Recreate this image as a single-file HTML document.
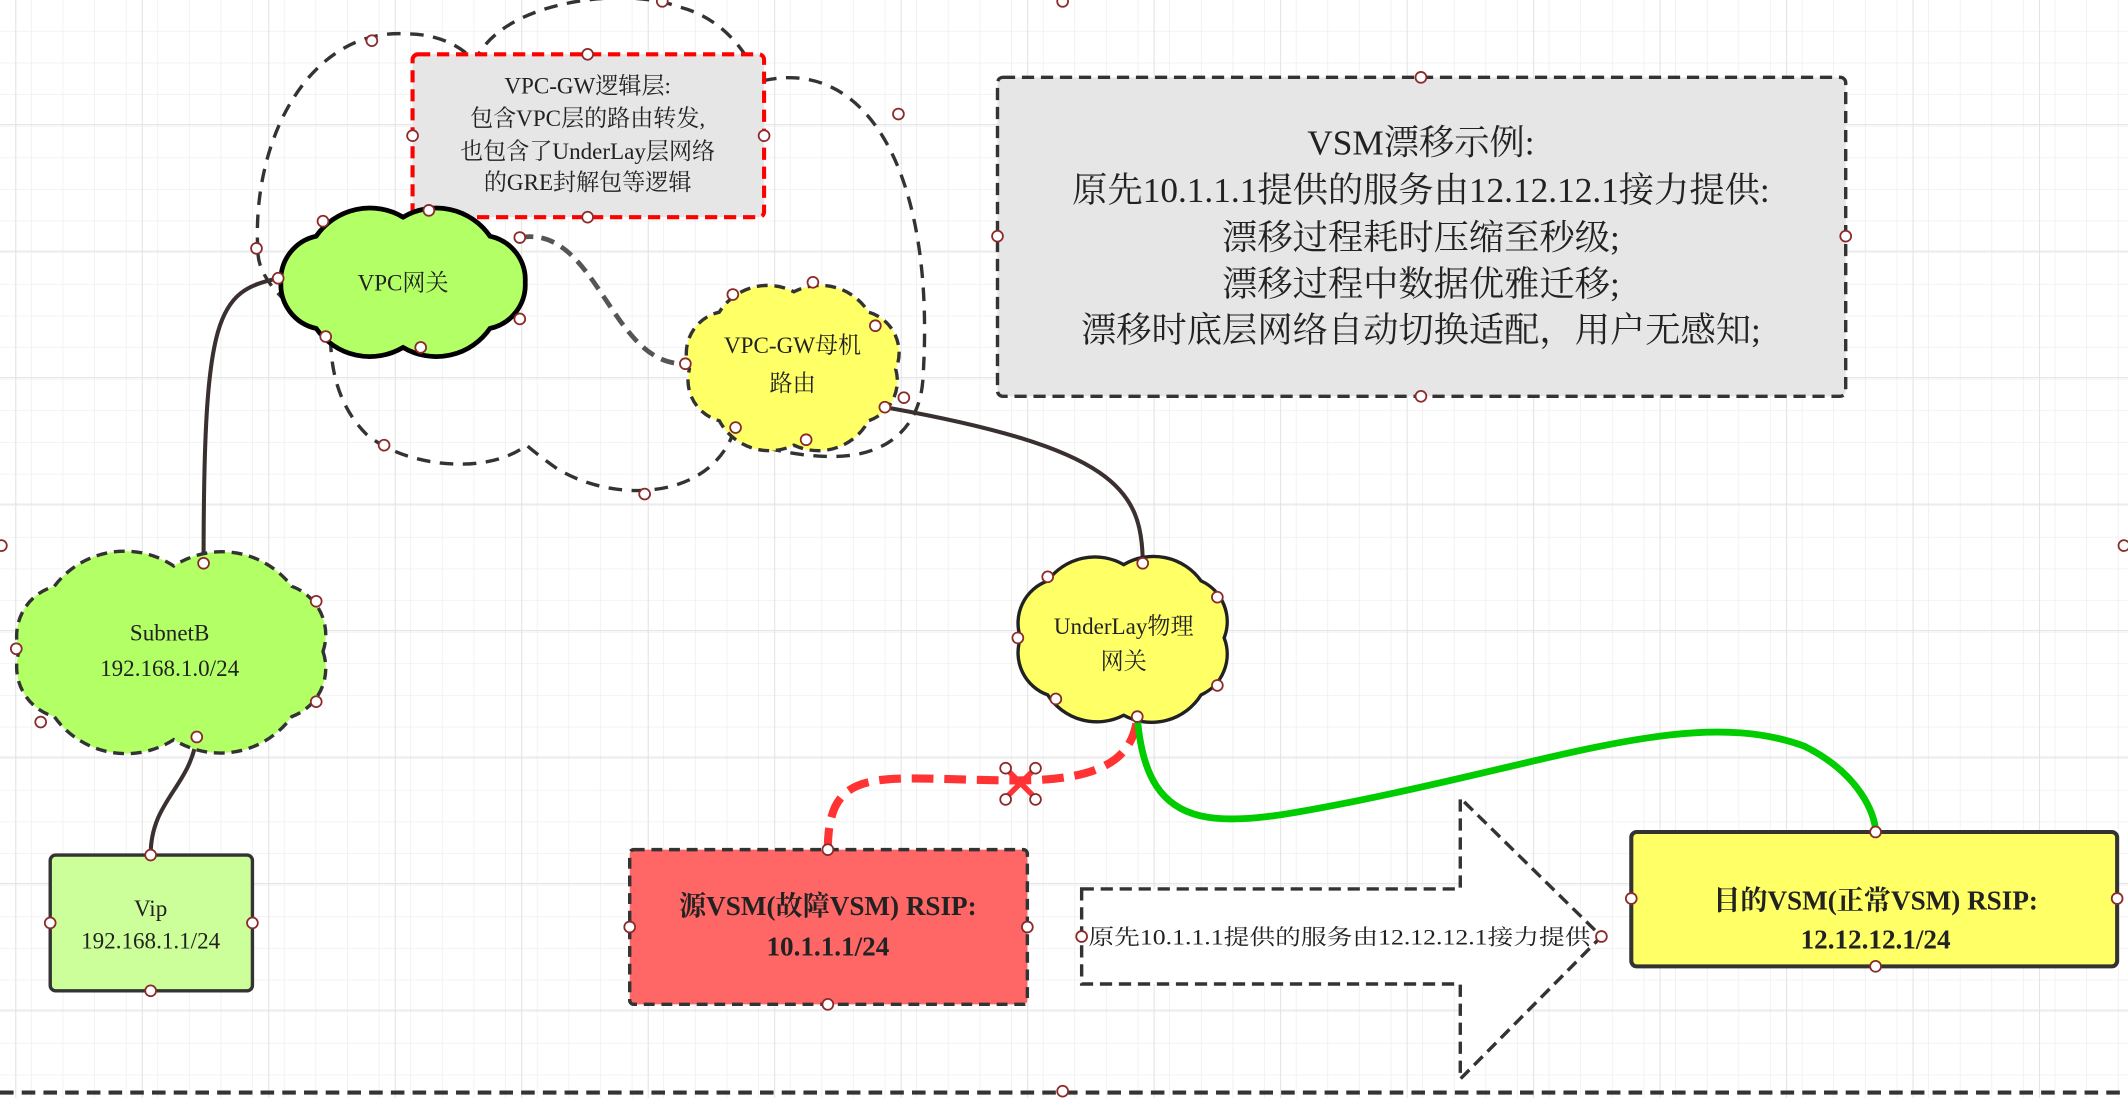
<!DOCTYPE html>
<html><head><meta charset="utf-8"><style>
html,body{margin:0;padding:0;background:#fff;}
svg{display:block;}
text{font-family:"Liberation Serif","Noto Serif CJK SC",serif;fill:#222;}
</style></head><body>
<svg width="2128" height="1098" viewBox="0 0 1568 809" preserveAspectRatio="none" xmlns="http://www.w3.org/2000/svg">
<defs>
<pattern id="g" width="23.3" height="23.3" patternUnits="userSpaceOnUse">
<path d="M23.3 0V23.3M0 23.3H23.3" stroke="#ececec" stroke-width="1" fill="none"/>
</pattern>
<pattern id="G" width="93.2" height="93.2" patternUnits="userSpaceOnUse" x="12" y="-1">
<path d="M93.2 0V93.2M0 93.2H93.2" stroke="#e2e2e2" stroke-width="1.5" fill="none"/>
</pattern>
</defs>
<rect width="1568" height="809" fill="#fff"/>
<rect width="1568" height="809" fill="url(#g)"/>
<rect width="1568" height="809" fill="url(#G)"/>
<line x1="0" y1="805" x2="1566" y2="805" stroke="#333" stroke-width="3" stroke-dasharray="10 6"/>

<path d="M190,185 C185,100 230,20 300,25 C330,25 345,40 350,45 C370,0 460,-10 500,5 C540,15 555,50 560,60 C640,40 690,130 680,280 C678,310 660,330 630,335 C600,340 555,330 540,320 C520,370 450,370 410,345 C400,338 390,330 388,328 C360,350 300,345 270,320 C240,290 245,250 243,250 C220,230 190,210 190,185 Z" fill="none" stroke="#333" stroke-width="2.5" stroke-dasharray="10 7"/>

<rect x="304" y="40" width="259" height="120" rx="4" fill="#e6e6e6" stroke="#ff0000" stroke-width="3" stroke-dasharray="9 5"/>
<g font-size="17" text-anchor="middle">
<text x="433" y="69">VPC-GW逻辑层:</text>
<text x="433" y="93">包含VPC层的路由转发,</text>
<text x="433" y="117">也包含了UnderLay层网络</text>
<text x="433" y="140">的GRE封解包等逻辑</text>
</g>

<path d="M150,415 C150,230 160,215 205,205" fill="none" stroke="#3a3030" stroke-width="3"/>
<path d="M145,543 C140,580 111,590 111,630" fill="none" stroke="#3a3030" stroke-width="3"/>
<path d="M383,175 C440,165 450,270 505,268" fill="none" stroke="#555" stroke-width="3.5" stroke-dasharray="10 6"/>
<path d="M652,300 C820,330 842,360 842,415" fill="none" stroke="#3a3030" stroke-width="3"/>

<path d="M387,208 A33,33 0 0 1 361,242 A48,48 0 0 1 297,256 A48,48 0 0 1 233,242 A33,33 0 0 1 207,208 A33,33 0 0 1 233,174 A48,48 0 0 1 297,160 A48,48 0 0 1 361,174 A33,33 0 0 1 387,208 Z" fill="#b3ff66" stroke="#000" stroke-width="3.5"/>
<text x="297" y="214" font-size="17" text-anchor="middle">VPC网关</text>

<path d="M660,272 A31,31 0 0 1 640,310 A42,42 0 0 1 585,328 A42,42 0 0 1 530,310 A31,31 0 0 1 508,272 A31,31 0 0 1 530,230 A42,42 0 0 1 585,215 A42,42 0 0 1 640,230 A31,31 0 0 1 660,272 Z" fill="#ffff66" stroke="#333" stroke-width="2.5" stroke-dasharray="8 5"/>
<text x="584" y="260" font-size="17" text-anchor="middle">VPC-GW母机</text>
<text x="584" y="288" font-size="17" text-anchor="middle">路由</text>

<path d="M902,470 A33,33 0 0 1 885,512 A43,43 0 0 1 828,527 A43,43 0 0 1 772,512 A33,33 0 0 1 752,470 A33,33 0 0 1 772,428 A43,43 0 0 1 828,416 A43,43 0 0 1 885,428 A33,33 0 0 1 902,470 Z" fill="#ffff66" stroke="#222" stroke-width="2.5"/>
<text x="828" y="467" font-size="17" text-anchor="middle">UnderLay物理</text>
<text x="828" y="493" font-size="17" text-anchor="middle">网关</text>

<path d="M238,480 A38,38 0 0 1 215,528 A65,65 0 0 1 128,545 A65,65 0 0 1 40,528 A38,38 0 0 1 14,480 A38,38 0 0 1 40,432 A65,65 0 0 1 128,417 A65,65 0 0 1 215,432 A38,38 0 0 1 238,480 Z" fill="#b3ff66" stroke="#333" stroke-width="2.5" stroke-dasharray="8 5"/>
<text x="125" y="472" font-size="17" text-anchor="middle">SubnetB</text>
<text x="125" y="498" font-size="17" text-anchor="middle">192.168.1.0/24</text>

<rect x="735" y="57" width="625" height="235" rx="4" fill="#e6e6e6" stroke="#333" stroke-width="2.5" stroke-dasharray="9 5"/>
<g font-size="26" text-anchor="middle">
<text x="1047" y="114">VSM漂移示例:</text>
<text x="1047" y="149">原先10.1.1.1提供的服务由12.12.12.1接力提供:</text>
<text x="1047" y="184">漂移过程耗时压缩至秒级;</text>
<text x="1047" y="218">漂移过程中数据优雅迁移;</text>
<text x="1047" y="252">漂移时底层网络自动切换适配，用户无感知;</text>
</g>

<rect x="37" y="630" width="149" height="100" rx="4" fill="#ccff99" stroke="#333" stroke-width="2.5"/>
<text x="111" y="675" font-size="17" text-anchor="middle">Vip</text>
<text x="111" y="699" font-size="17" text-anchor="middle">192.168.1.1/24</text>

<rect x="464" y="626" width="293" height="114" rx="3" fill="#ff6666" stroke="#333" stroke-width="2.5" stroke-dasharray="8 5"/>
<text x="610" y="674" font-size="20" font-weight="bold" text-anchor="middle">源VSM(故障VSM) RSIP:</text>
<text x="610" y="704" font-size="20" font-weight="bold" text-anchor="middle">10.1.1.1/24</text>

<rect x="1202" y="613" width="358" height="99" rx="4" fill="#ffff66" stroke="#333" stroke-width="3"/>
<text x="1382" y="670" font-size="20" font-weight="bold" text-anchor="middle">目的VSM(正常VSM) RSIP:</text>
<text x="1382" y="699" font-size="20" font-weight="bold" text-anchor="middle">12.12.12.1/24</text>

<path d="M797,655 L1076,655 L1076,588 L1180,690 L1076,795 L1076,725 L797,725 Z" fill="#fff" stroke="#333" stroke-width="2.5" stroke-dasharray="9 5"/>
<text x="987" y="696" font-size="16" text-anchor="middle" textLength="370" lengthAdjust="spacingAndGlyphs">原先10.1.1.1提供的服务由12.12.12.1接力提供</text>

<path d="M610,626 C610,560 650,575 750,575 C810,575 835,560 838,528" fill="none" stroke="#ff3333" stroke-width="6" stroke-dasharray="16 8"/>
<path d="M743,568 L761,586 M761,568 L743,586" stroke="#ff3333" stroke-width="4"/>
<path d="M838,528 C845,620 900,610 1000,590 C1150,560 1250,520 1330,550 C1370,570 1382,600 1382,613" fill="none" stroke="#00cc00" stroke-width="5"/>

<g fill="#fff" stroke="#8b2a2a" stroke-width="1.3">
<circle cx="783" cy="804" r="4"/><circle cx="1" cy="402" r="4"/><circle cx="1565" cy="402" r="4"/>
<circle cx="488" cy="1" r="4"/><circle cx="783" cy="1" r="4"/><circle cx="1047" cy="57" r="4"/>
<circle cx="274" cy="30" r="4"/><circle cx="433" cy="40" r="4"/><circle cx="304" cy="100" r="4"/><circle cx="563" cy="100" r="4"/>
<circle cx="316" cy="155" r="4"/><circle cx="433" cy="160" r="4"/><circle cx="662" cy="84" r="4"/>
<circle cx="189" cy="183" r="4"/><circle cx="238" cy="163" r="4"/><circle cx="383" cy="175" r="4"/>
<circle cx="205" cy="205" r="4"/><circle cx="383" cy="235" r="4"/><circle cx="240" cy="248" r="4"/><circle cx="310" cy="256" r="4"/>
<circle cx="540" cy="217" r="4"/><circle cx="599" cy="208" r="4"/><circle cx="645" cy="240" r="4"/>
<circle cx="505" cy="268" r="4"/><circle cx="652" cy="300" r="4"/><circle cx="666" cy="293" r="4"/>
<circle cx="542" cy="315" r="4"/><circle cx="594" cy="324" r="4"/><circle cx="283" cy="328" r="4"/><circle cx="475" cy="364" r="4"/>
<circle cx="735" cy="174" r="4"/><circle cx="1360" cy="174" r="4"/><circle cx="1047" cy="292" r="4"/>
<circle cx="150" cy="415" r="4"/><circle cx="233" cy="443" r="4"/><circle cx="12" cy="478" r="4"/><circle cx="233" cy="517" r="4"/><circle cx="145" cy="543" r="4"/><circle cx="30" cy="532" r="4"/>
<circle cx="772" cy="425" r="4"/><circle cx="842" cy="415" r="4"/><circle cx="897" cy="440" r="4"/><circle cx="750" cy="470" r="4"/><circle cx="897" cy="505" r="4"/><circle cx="778" cy="515" r="4"/><circle cx="838" cy="528" r="4"/>
<circle cx="741" cy="566" r="4"/><circle cx="763" cy="566" r="4"/><circle cx="741" cy="589" r="4"/><circle cx="763" cy="589" r="4"/>
<circle cx="111" cy="630" r="4"/><circle cx="37" cy="680" r="4"/><circle cx="186" cy="680" r="4"/><circle cx="111" cy="730" r="4"/>
<circle cx="610" cy="626" r="4"/><circle cx="464" cy="683" r="4"/><circle cx="757" cy="683" r="4"/><circle cx="610" cy="740" r="4"/>
<circle cx="797" cy="690" r="4"/><circle cx="1180" cy="690" r="4"/>
<circle cx="1382" cy="613" r="4"/><circle cx="1202" cy="662" r="4"/><circle cx="1560" cy="662" r="4"/><circle cx="1382" cy="712" r="4"/>
</g>
</svg>
</body></html>
